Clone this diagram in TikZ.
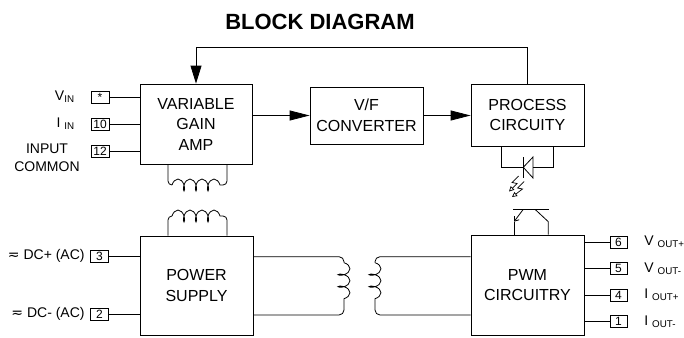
\documentclass[tikz,border=0pt]{standalone}
\usepackage{fontspec}
\setmainfont{Liberation Sans}
\newfontfamily\symfont{DejaVu Sans}
\usetikzlibrary{arrows.meta,decorations.pathmorphing}

\begin{document}
\begin{tikzpicture}[x=1pt,y=-1pt,line width=0.8pt,
        main node/.style={draw,minimum width=113pt,align=center,inner sep=0pt,font=\fontsize{16}{20.5}\selectfont},
        pin/.style={draw,minimum width=18pt,minimum height=12pt,inner sep=0pt,font=\fontsize{12}{12}\selectfont},
        lbl/.style={inner sep=0pt,font=\fontsize{14}{17.5}\selectfont},
        big arrow/.style={-{Triangle[length=20pt,width=10pt]}},
        coil/.style={decorate,decoration={coil,amplitude=6pt,segment length=12pt,aspect=0.5}}]

      \useasboundingbox (0,0) rectangle (684,337);

      \node[font=\fontsize{22}{22}\selectfont\bfseries] (title) at (320,22) {BLOCK DIAGRAM};

      \node[main node,minimum width=112pt,minimum height=80pt] (vga) at (196,124) {VARIABLE\\GAIN\\AMP};
      \node[main node,minimum height=57pt] (vf) at (366.5,115.5) {V/F\\CONVERTER};
      \node[main node,minimum height=62pt] (proc) at (527.5,115) {PROCESS\\CIRCUITY};
      \node[main node,minimum height=99pt] (ps) at (196.5,285.5) {POWER\\SUPPLY};
      \node[main node,minimum height=100pt] (pwm) at (527.5,285) {PWM\\CIRCUITRY};

      % input pins
      \node[pin] (pa) at (100,97) {*};
      \node[pin] (pb) at (100,124) {10};
      \node[pin] (pc) at (100,151) {12};
      \node[pin] (pd) at (99.5,256) {3};
      \node[pin] (pe) at (99.5,314) {2};

      % output pins
      \node[pin,minimum width=17pt] (pf) at (618.5,242) {6};
      \node[pin,minimum width=17pt] (pg) at (618.5,268.5) {5};
      \node[pin,minimum width=17pt] (ph) at (618.5,295) {4};
      \node[pin,minimum width=17pt] (pi) at (618.5,321.5) {1};

      \node[lbl,anchor=east] (vin) at (75,97) {V\textsubscript{IN}};
      \node[lbl,anchor=east] (iin) at (75,124) {I \textsubscript{IN}};
      \node[lbl,align=center] (com) at (47,158) {INPUT\\COMMON};
      \node[lbl,anchor=east] (dcp) at (85,256) {{\symfont ≂} DC+ (AC)};
      \node[lbl,anchor=east] (dcm) at (85,314) {{\symfont ≂} DC- (AC)};
      \node[lbl,anchor=west] (vop) at (644,242) {V \textsubscript{OUT+}};
      \node[lbl,anchor=west] (vom) at (644,268.5) {V \textsubscript{OUT-}};
      \node[lbl,anchor=west] (iop) at (644,295) {I \textsubscript{OUT+}};
      \node[lbl,anchor=west] (iom) at (644,321.5) {I \textsubscript{OUT-}};

      \draw (pa) -- (vga.west |- pa);
      \draw (pb) -- (vga.west |- pb);
      \draw (pc) -- (vga.west |- pc);
      \draw (pd) -- (ps.west |- pd);
      \draw (pe) -- (ps.west |- pe);
      \draw (pf) -- (pwm.east |- pf);
      \draw (pg) -- (pwm.east |- pg);
      \draw (ph) -- (pwm.east |- ph);
      \draw (pi) -- (pwm.east |- pi);

      \draw[big arrow] (vga.east |- vf) -- (vf.west);
      \draw[big arrow] (vf.east) -- (vf.east -| proc.west);
      \draw[-{Triangle[length=18pt,width=11pt]}] (proc.north) -- ++(0,-36) -| (vga.north);

      % transformer under the amp
      \coordinate (ua) at (168,185);
      \coordinate (ub) at (227,185);
      \draw[rounded corners=4pt] (vga.south -| ua) -- (ua) -- ([xshift=4pt]ua);
      \draw[coil] ([xshift=4pt]ua) -- ([xshift=-4pt]ub);
      \draw[rounded corners=4pt] ([xshift=-4pt]ub) -- (ub) -- (vga.south -| ub);
      \coordinate (la) at (168,216);
      \coordinate (lb) at (227,216);
      \draw[rounded corners=4pt] (ps.north -| la) -- (la) -- ([xshift=4pt]la);
      \draw[coil] ([xshift=4pt]la) -- ([xshift=-4pt]lb);
      \draw[rounded corners=4pt] ([xshift=-4pt]lb) -- (lb) -- (ps.north -| lb);

      % transformer between supply and pwm
      \coordinate (ma) at (344,256.7);
      \coordinate (mb) at (344,315);
      \draw[rounded corners=5pt] (ps.east |- ma) -- (ma) -- ([yshift=-6pt]ma);
      \draw[coil] ([yshift=-6pt]ma) -- ([yshift=6pt]mb);
      \draw[rounded corners=5pt] ([yshift=6pt]mb) -- (mb) -- (ps.east |- mb);
      \coordinate (na) at (375,256.7);
      \coordinate (nb) at (375,315);
      \draw[rounded corners=5pt] (pwm.west |- na) -- (na) -- ([yshift=-6pt]na);
      \draw[coil] ([yshift=-6pt]na) -- ([yshift=6pt]nb);
      \draw[rounded corners=5pt] ([yshift=6pt]nb) -- (nb) -- (pwm.west |- nb);

      % opto coupler
      \coordinate (dk) at (523.3,167.3);
      \coordinate (da) at (533,167.3);
      \coordinate (dl) at (501,167.3);
      \coordinate (dr) at (553,167.3);
      \draw (proc.south -| dl) -- (dl) -- (dk);
      \draw (da) -- (dr) -- (proc.south -| dr);
      \draw (dk) -- (da |- 0,157) -- (da |- 0,178) -- cycle;
      \draw (dk |- 0,157) -- (dk |- 0,178);
      \draw[line width=0.7pt,-{Triangle[open,length=5pt,width=5pt]}] (518.5,176) -- (512,182.5) -- (517,183.5) -- (509,191.5);
      \draw[line width=0.7pt,-{Triangle[open,length=5pt,width=5pt]}] (524,181.5) -- (517.5,188) -- (522.5,189) -- (512,197);

      \coordinate (te) at (514,221.7);
      \coordinate (tc) at (548.3,221.7);
      \draw (513,209.3) -- (549,209.3);
      \draw[-{Straight Barb[length=4pt,width=6pt]}] (523.3,209.3) -- (te);
      \draw (te) -- (te |- pwm.north);
      \draw (535,209.3) -- (tc) -- (tc |- pwm.north);
    \end{tikzpicture}
\end{document}
